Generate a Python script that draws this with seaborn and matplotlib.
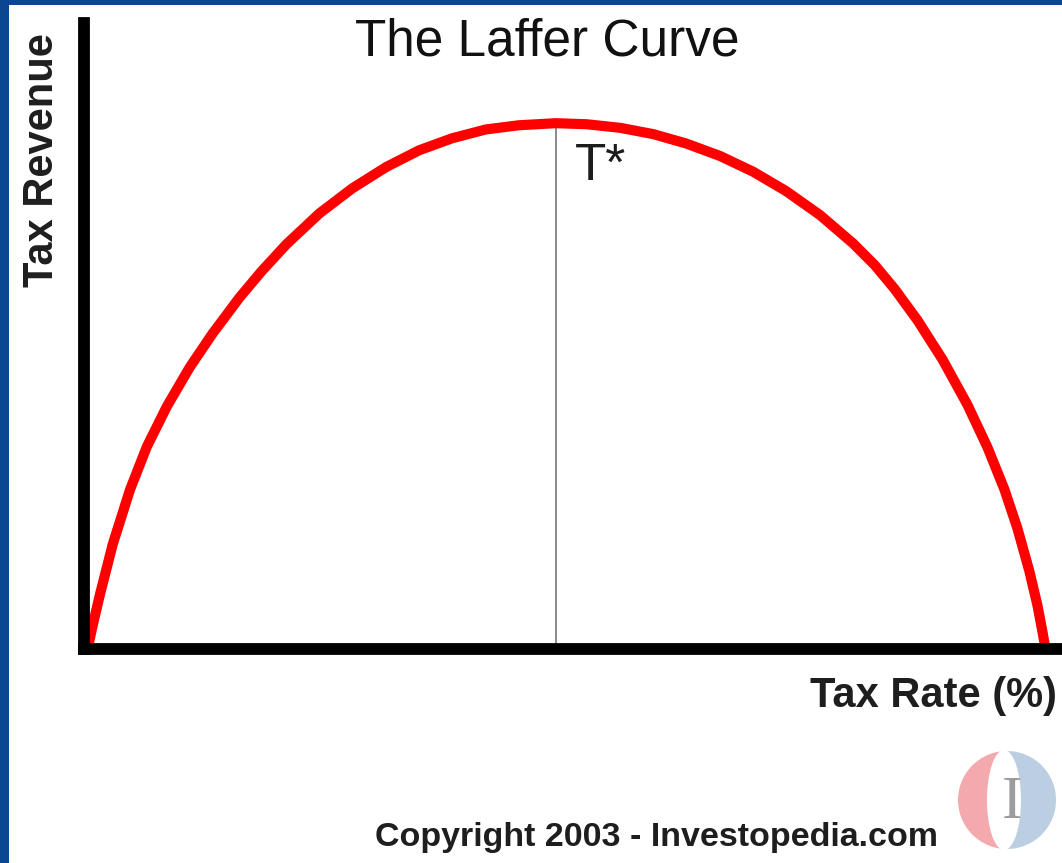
# The Laffer curve, redrawn with seaborn
import numpy as np
import pandas as pd
import matplotlib
matplotlib.use('Agg')
import matplotlib.pyplot as plt
from matplotlib.patches import Rectangle, Wedge, Ellipse
import seaborn as sns

# tax rate (%) and tax revenue (% of peak)
tax_rate = [0.0, 0.36, 1.20, 2.55, 4.33, 6.10, 8.19, 10.58, 12.98, 15.80, 18.09, 20.70,
            24.14, 27.58, 31.13, 34.57, 38.01, 41.55, 44.99, 48.85,
            52.09, 55.63, 59.07, 62.51, 66.06, 69.50, 72.94, 76.49, 79.93, 82.22,
            84.31, 86.70, 89.31, 91.92, 94.00, 95.78, 97.13, 98.38, 99.22, 99.74, 100.0]
tax_revenue = [0.0, 3.1, 9.7, 19.4, 29.7, 38.0, 45.7, 53.2, 59.7, 66.6, 71.6, 76.8,
               82.7, 87.5, 91.6, 94.8, 97.1, 98.8, 99.6, 100.0,
               99.8, 99.1, 97.9, 96.1, 93.7, 90.7, 87.0, 82.4, 77.0, 72.8,
               68.2, 62.2, 54.7, 46.0, 37.9, 29.8, 22.4, 14.2, 7.7, 2.7, 0.0]
t_star = 48.85
peak_revenue = 100.0

title = 'The Laffer Curve'
x_label = 'Tax Rate (%)'
y_label = 'Tax Revenue'
peak_label = 'T*'
credit = 'Copyright 2003 - Investopedia.com'

curve = pd.DataFrame({'rate': tax_rate, 'revenue': tax_revenue})

sns.set_style('white')
plt.rcParams['font.family'] = ['Liberation Sans', 'DejaVu Sans']

W, H = 1062, 863
fig = plt.figure(figsize=(W / 100, H / 100), dpi=100)
fig.patch.set_facecolor('#0b4690')
# white card on the blue backdrop
fig.patches.append(Rectangle((9 / W, 0), 1, (H - 5) / H, transform=fig.transFigure,
                             facecolor='white', edgecolor='none', zorder=-1))


def fx(px):
    return px / W


def fy(py):
    return 1 - py / H


# decorations layer in pixel coordinates (logo)
deco = fig.add_axes([0, 0, 1, 1], zorder=0.5)
deco.set_xlim(0, W)
deco.set_ylim(H, 0)
deco.axis('off')
deco.add_patch(Wedge((1007, 800), 49, 90, 270, facecolor='#f4a9ae', edgecolor='none'))
deco.add_patch(Wedge((1007, 800), 49, -90, 90, facecolor='#bccfe2', edgecolor='none'))
deco.add_patch(Ellipse((1004, 800), 34, 100, facecolor='white', edgecolor='none'))
deco.text(1012, 803, 'I', family='Liberation Serif', fontsize=44, color='#9c9c9c',
          ha='center', va='center')

# main axes
left_px, right_px, top_px, bottom_px = 84, W, 23, 649
ax = fig.add_axes([fx(left_px), fy(bottom_px), (right_px - left_px) / W,
                   (bottom_px - top_px) / H], zorder=1)
ax.set_facecolor('white')

sns.lineplot(data=curve, x='rate', y='revenue', sort=False, color='#ff0000',
             linewidth=7.3, ax=ax, solid_capstyle='butt', solid_joinstyle='round')
ax.plot([t_star, t_star], [0, peak_revenue], color='#8a8a8a', linewidth=1.4, zorder=1)

ax.set_xlim(-0.47, 101.8)
ax.set_ylim(-0.77, 119.2)
ax.set_xticks([])
ax.set_yticks([])
ax.set_xlabel('')
ax.set_ylabel('')
for side in ['top', 'right']:
    ax.spines[side].set_visible(False)
for side in ['left', 'bottom']:
    ax.spines[side].set_color('black')
    ax.spines[side].set_linewidth(8.5)
    ax.spines[side].set_capstyle('projecting')
    ax.spines[side].set_zorder(3)

# texts
fig.text(fx(547), fy(55), title, ha='center', va='baseline', fontsize=37, color='#111111')
fig.text(fx(575), fy(180), peak_label, ha='left', va='baseline', fontsize=37,
         color='#1c1c1c', zorder=5)
fig.text(fx(42), fy(160), y_label, rotation=90, ha='center', va='center',
         fontsize=30, fontweight='bold', color='#1e1e1e')
fig.text(fx(810), fy(707), x_label, ha='left', va='baseline', fontsize=30,
         fontweight='bold', color='#1e1e1e')
fig.text(fx(375), fy(846), credit, ha='left', va='baseline', fontsize=24.5,
         fontweight='bold', color='#1e1e1e')

fig.savefig('out.png', dpi=100, facecolor=fig.get_facecolor())
